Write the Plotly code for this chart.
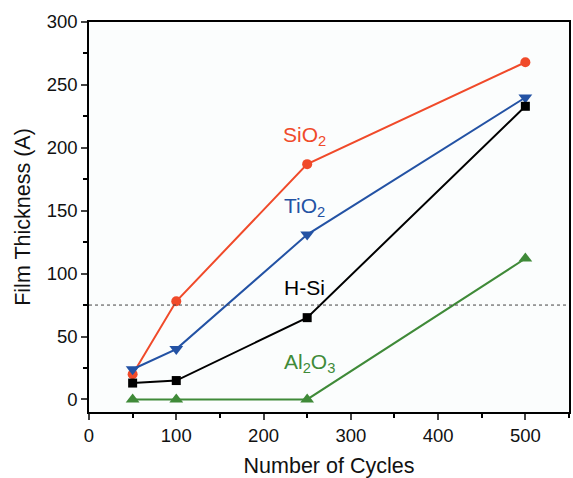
import plotly.graph_objects as go

cycles = [50, 100, 250, 500]
sio2 = [20, 78, 187, 268]
tio2 = [24, 40, 131, 240]
hsi = [13, 15, 65, 233]
al2o3 = [0, 0, 0, 112]

ref_line = 75
x_ticks = [0, 100, 200, 300, 400, 500]
y_ticks = [0, 50, 100, 150, 200, 250, 300]

red = "#f04a2a"
blue = "#2352a4"
black = "#000000"
green = "#3f8a38"

fig = go.Figure()
fig.add_trace(go.Scatter(x=cycles, y=sio2, mode="lines+markers", line=dict(color=red, width=2),
                         marker=dict(symbol="circle", size=10, color=red), name="SiO2"))
fig.add_trace(go.Scatter(x=cycles, y=tio2, mode="lines+markers", line=dict(color=blue, width=2),
                         marker=dict(symbol="triangle-down", size=12, color=blue), name="TiO2"))
fig.add_trace(go.Scatter(x=cycles, y=hsi, mode="lines+markers", line=dict(color=black, width=2),
                         marker=dict(symbol="square", size=9, color=black), name="H-Si"))
fig.add_trace(go.Scatter(x=cycles, y=al2o3, mode="lines+markers", line=dict(color=green, width=2),
                         marker=dict(symbol="triangle-up", size=12, color=green), name="Al2O3"))

fig.add_shape(type="line", xref="paper", x0=0, x1=1, yref="y", y0=ref_line, y1=ref_line,
              line=dict(color="#444444", width=1, dash="dot"))

labels = [("SiO<sub>2</sub>", 247, 209, red), ("TiO<sub>2</sub>", 247, 153, blue),
          ("H-Si", 247, 89, black), ("Al<sub>2</sub>O<sub>3</sub>", 253, 29, green)]
for txt, lx, ly, col in labels:
    fig.add_annotation(x=lx, y=ly, text=txt, showarrow=False, font=dict(size=21, color=col))

fig.update_layout(
    width=573, height=478,
    margin=dict(l=89, r=2, t=22, b=66),
    paper_bgcolor="white", plot_bgcolor="#fbfdfd",
    showlegend=False,
    font=dict(family="Liberation Sans, Arial, sans-serif", color="#111111"),
)
fig.update_xaxes(range=[0, 550], tickvals=x_ticks, ticks="outside", ticklen=6, tickwidth=1.5,
                 showgrid=False, zeroline=False, showline=True, linecolor="black", linewidth=1.5,
                 mirror=True, tickfont=dict(size=18.5),
                 minor=dict(tickvals=[50, 150, 250, 350, 450, 550], ticks="outside", ticklen=4, tickcolor="black"),
                 title=dict(text="Number of Cycles", font=dict(size=21.5), standoff=14))
fig.update_yaxes(range=[-10, 300], tickvals=y_ticks, ticks="outside", ticklen=6, tickwidth=1.5,
                 showgrid=False, zeroline=False, showline=True, linecolor="black", linewidth=1.5,
                 mirror=True, tickfont=dict(size=18.5),
                 minor=dict(tickvals=[25, 75, 125, 175, 225, 275], ticks="outside", ticklen=4, tickcolor="black"),
                 title=dict(text="Film Thickness (A)", font=dict(size=21.5), standoff=10))

fig.write_html("out.html")
